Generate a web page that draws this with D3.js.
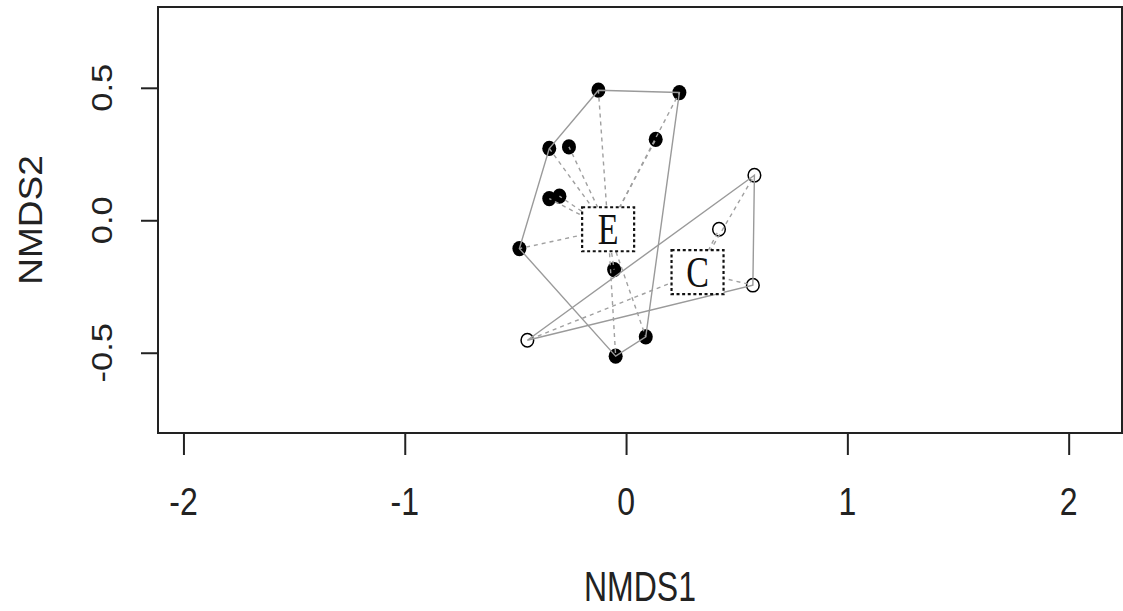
<!DOCTYPE html>
<html><head><meta charset="utf-8">
<script src="https://cdn.jsdelivr.net/npm/d3@7"></script>
<style>
html,body{margin:0;padding:0;background:#fff;}
svg{display:block;}
</style></head>
<body>
<svg id="chart" width="1123" height="611"></svg>
<script>
// ---- data ----
const groupE_x = [-0.125, 0.241, -0.347, -0.258, 0.134, -0.347, -0.301, -0.482, -0.054, -0.047, 0.089];
const groupE_y = [0.491, 0.482, 0.271, 0.277, 0.305, 0.082, 0.091, -0.107, -0.186, -0.513, -0.440];
const groupC_x = [0.580, 0.420, 0.573, -0.446];
const groupC_y = [0.170, -0.034, -0.245, -0.453];
const groupLabels = ["E", "C"];
const centroid_x = [-0.081, 0.323];
const centroid_y = [-0.034, -0.196];
const xTickValues = [-2, -1, 0, 1, 2];
const xTickLabels = ["-2", "-1", "0", "1", "2"];
const yTickValues = [-0.5, 0, 0.5];
const yTickLabels = ["-0.5", "0.0", "0.5"];
const xTitle = "NMDS1";
const yTitle = "NMDS2";

const svg = d3.select("#chart");
const L = 158, R = 1122, T = 7, B = 433;
const x = d3.scaleLinear().domain([-2.115, 2.241]).range([L, R]);
const y = d3.scaleLinear().domain([-0.803, 0.805]).range([B, T]);

svg.append("rect").attr("width", 1123).attr("height", 611).attr("fill", "#fff");

const groups = [
  {pts: groupE_x.map((v, i) => [v, groupE_y[i]]), filled: true},
  {pts: groupC_x.map((v, i) => [v, groupC_y[i]]), filled: false}
];

// points
groups.forEach(g => {
  svg.append("g").selectAll("ellipse").data(g.pts).join("ellipse")
    .attr("cx", d => x(d[0])).attr("cy", d => y(d[1]))
    .attr("rx", g.filled ? 7 : 6.3).attr("ry", g.filled ? 7.6 : 6.7)
    .attr("fill", g.filled ? "#000" : "#fff")
    .attr("stroke", "#000").attr("stroke-width", g.filled ? 0 : 1.5);
});

// hulls
groups.forEach(g => {
  const hull = d3.polygonHull(g.pts.map(d => [x(d[0]), y(d[1])]));
  svg.append("path").attr("d", "M" + hull.join("L") + "Z")
    .attr("fill", "none").attr("stroke", "#9a9a9a").attr("stroke-width", 1.4);
});

// spiders
groups.forEach((g, gi) => {
  const cx = x(centroid_x[gi]), cy = y(centroid_y[gi]);
  svg.append("g").selectAll("line").data(g.pts).join("line")
    .attr("x1", cx).attr("y1", cy)
    .attr("x2", d => x(d[0])).attr("y2", d => y(d[1]))
    .attr("stroke", "#a0a0a0").attr("stroke-width", 1.4).attr("stroke-dasharray", "4,4");
});

// centroid labels with dotted boxes
groupLabels.forEach((lab, gi) => {
  const cx = x(centroid_x[gi]), cy = y(centroid_y[gi]);
  svg.append("rect").attr("x", cx - 26).attr("y", cy - 22).attr("width", 52).attr("height", 44)
    .attr("fill", "#fff").attr("stroke", "#111").attr("stroke-width", 2.2).attr("stroke-dasharray", "3,2.6");
  svg.append("text").attr("transform", `translate(${cx},${cy}) scale(1,1.28)`)
    .attr("y", 11.2).attr("text-anchor", "middle")
    .attr("font-family", "Liberation Serif, Times New Roman, serif").attr("font-size", 34)
    .attr("fill", "#111").text(lab);
});

// box
svg.append("rect").attr("x", L).attr("y", T).attr("width", R - L).attr("height", B - T)
  .attr("fill", "none").attr("stroke", "#222").attr("stroke-width", 2);

// x axis ticks
const xAxis = d3.axisBottom(x).tickValues(xTickValues).tickSize(22).tickFormat("");
const gx = svg.append("g").attr("transform", `translate(0,${B})`).call(xAxis);
gx.select(".domain").remove();
gx.selectAll("line").attr("stroke", "#222").attr("stroke-width", 2);
svg.append("g").selectAll("text").data(xTickValues).join("text")
  .attr("transform", d => `translate(${x(d)},515) scale(1,1.2)`)
  .attr("text-anchor", "middle").attr("font-family", "Liberation Sans, Arial, sans-serif")
  .attr("font-size", 32).attr("fill", "#222").text((d, i) => xTickLabels[i]);

// y axis ticks
const yAxis = d3.axisLeft(y).tickValues(yTickValues).tickSize(17).tickFormat("");
const gy = svg.append("g").attr("transform", `translate(${L},0)`).call(yAxis);
gy.select(".domain").remove();
gy.selectAll("line").attr("stroke", "#222").attr("stroke-width", 2);
svg.append("g").selectAll("text").data(yTickValues).join("text")
  .attr("transform", d => `translate(111.7,${y(d)}) rotate(-90) scale(1.15,1)`)
  .attr("text-anchor", "middle").attr("font-family", "Liberation Sans, Arial, sans-serif")
  .attr("font-size", 30).attr("fill", "#222").text((d, i) => yTickLabels[i]);

// titles
svg.append("text").attr("transform", `translate(${(L + R) / 2},601) scale(1,1.3)`)
  .attr("text-anchor", "middle").attr("font-family", "Liberation Sans, Arial, sans-serif")
  .attr("font-size", 32).attr("fill", "#222").text(xTitle);
svg.append("text").attr("transform", `translate(41.7,${(T + B) / 2}) rotate(-90) scale(1.14,1)`)
  .attr("text-anchor", "middle").attr("font-family", "Liberation Sans, Arial, sans-serif")
  .attr("font-size", 32.5).attr("fill", "#222").text(yTitle);
</script>
</body></html>
